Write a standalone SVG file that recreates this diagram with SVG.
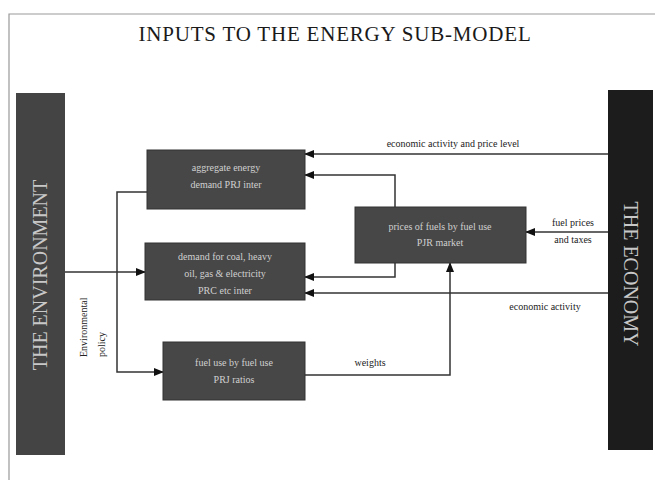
<svg xmlns="http://www.w3.org/2000/svg" width="655" height="488" viewBox="0 0 655 488">
<style>
.box{fill:#474747;stroke:#333;stroke-width:1}
.bt{font-family:"Liberation Serif",serif;font-size:10px;fill:#d0d0d0;text-anchor:middle}
.lab{font-family:"Liberation Serif",serif;font-size:10px;fill:#222;text-anchor:middle}
.ln{fill:none;stroke:#333;stroke-width:1.5}
</style>
<defs>
<marker id="ah" markerWidth="10" markerHeight="8" refX="9" refY="4" orient="auto" markerUnits="userSpaceOnUse">
<path d="M0,0 L10,4 L0,8 Z" fill="#111"/>
</marker>
</defs>
<rect x="0" y="0" width="655" height="488" fill="#fff"/>
<path d="M9,480 L9,14 L655,14" fill="none" stroke="#999" stroke-width="1.2"/>
<text x="335" y="41" font-family="Liberation Serif,serif" font-size="21" letter-spacing="0.8" fill="#1a1a1a" text-anchor="middle">INPUTS TO THE ENERGY SUB-MODEL</text>

<g id="environment">
<rect x="16" y="93" width="49" height="362" fill="#444"/>
<text transform="translate(47,275) rotate(-90)" font-family="Liberation Serif,serif" font-size="20" fill="#c8c8c8" text-anchor="middle">THE ENVIRONMENT</text>
</g>
<g id="economy">
<rect x="608" y="90" width="45" height="360" fill="#1c1c1c"/>
<text transform="translate(624,274) rotate(90)" font-family="Liberation Serif,serif" font-size="20" fill="#c8c8c8" text-anchor="middle">THE ECONOMY</text>
</g>

<g id="connectors">
<path class="ln" d="M608,154 L305,154" marker-end="url(#ah)"/>
<path class="ln" d="M395,207 L395,175 L305,175" marker-end="url(#ah)"/>
<path class="ln" d="M395,263 L395,277 L305,277" marker-end="url(#ah)"/>
<path class="ln" d="M608,293 L305,293" marker-end="url(#ah)"/>
<path class="ln" d="M608,232 L526,232" marker-end="url(#ah)"/>
<path class="ln" d="M65,272 L145,272" marker-end="url(#ah)"/>
<path class="ln" d="M147,192 L117,192 L117,372 L163,372" marker-end="url(#ah)"/>
<path class="ln" d="M305,375 L450,375 L450,263" marker-end="url(#ah)"/>
<text class="lab" x="453" y="147">economic activity and price level</text>
<text class="lab" x="573" y="226">fuel prices</text>
<text class="lab" x="573" y="243">and taxes</text>
<text class="lab" x="545" y="310">economic activity</text>
<text class="lab" x="370" y="366">weights</text>
<text transform="translate(87,357) rotate(-90)" font-family="Liberation Serif,serif" font-size="10" fill="#222">Environmental</text>
<text transform="translate(105,357) rotate(-90)" font-family="Liberation Serif,serif" font-size="10" fill="#222">policy</text>
</g>

<g id="aggregate">
<rect class="box" x="147" y="150" width="158" height="59"/>
<text class="bt" x="226" y="171">aggregate energy</text>
<text class="bt" x="226" y="188">demand PRJ inter</text>
</g>
<g id="demand">
<rect class="box" x="145" y="243" width="160" height="57"/>
<text class="bt" x="225" y="260">demand for coal, heavy</text>
<text class="bt" x="225" y="277">oil, gas &amp; electricity</text>
<text class="bt" x="225" y="294">PRC etc inter</text>
</g>
<g id="fueluse">
<rect class="box" x="163" y="342" width="142" height="58"/>
<text class="bt" x="234" y="366">fuel use by fuel use</text>
<text class="bt" x="234" y="383">PRJ ratios</text>
</g>
<g id="prices">
<rect class="box" x="355" y="207" width="171" height="56"/>
<text class="bt" x="440" y="230">prices of fuels by fuel use</text>
<text class="bt" x="440" y="246">PJR market</text>
</g>
</svg>
